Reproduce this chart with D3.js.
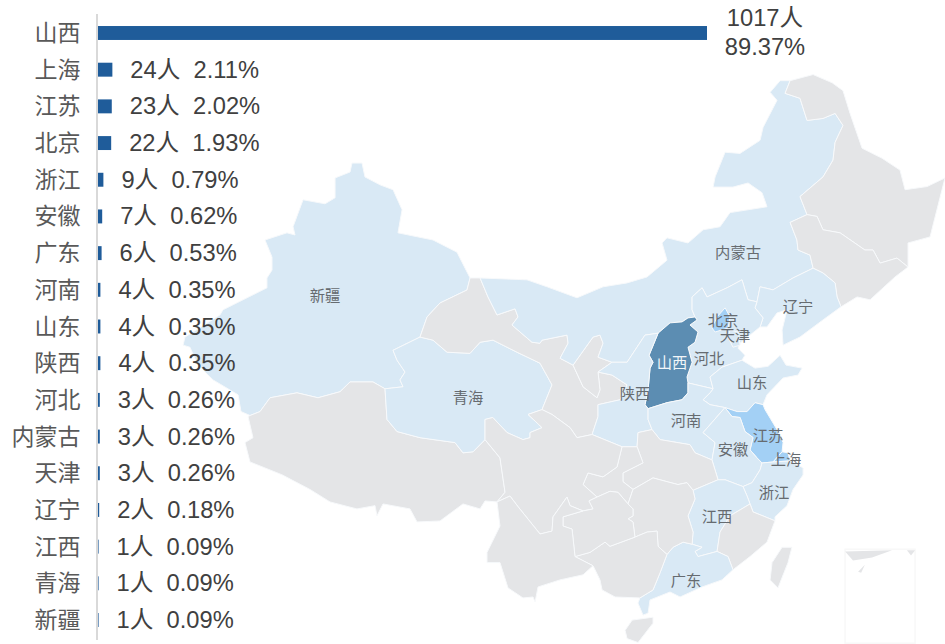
<!DOCTYPE html>
<html><head><meta charset="utf-8">
<script src="https://cdn.jsdelivr.net/npm/d3@7/dist/d3.min.js"></script>
<style>html,body{margin:0;padding:0;background:#fff}svg{display:block}</style>
</head><body><svg id="c" width="945" height="644"></svg>
<script>
// ---------- chart values ----------
const categories=["山西","上海","江苏","北京","浙江","安徽","广东","河南","山东","陕西","河北","内蒙古","天津","辽宁","江西","青海","新疆"];
const counts=[1017,24,23,22,9,7,6,4,4,4,3,3,3,2,1,1,1];
const shares=["89.37%","2.11%","2.02%","1.93%","0.79%","0.62%","0.53%","0.35%","0.35%","0.35%","0.26%","0.26%","0.26%","0.18%","0.09%","0.09%","0.09%"];

// ---------- geography: junctions [lon,lat] ----------
const J1=[96.56,42.68],J1b=[97.37,42.68],J2=[78.76,34.13],J3=[89.68,35.87],J4=[92.51,39.13],J5=[104.89,37.38],J6=[108.04,37.56],J7=[111.77,39.37],J8=[114.76,40.36],J9=[119.77,41.27],J10=[124.31,43.25],J11=[123.82,46.27],J12=[122.45,53.14],J13=[131.99,43.31],J14=[126.57,40.97],J15=[120.02,39.75],J16=[118.56,37.69],J17=[116.22,35.87],J18=[114.19,36.25],J19=[110.96,34.58],J20=[111.28,33.2],J21=[116.13,31.16],T=[117.18,34.65],J24=[120.26,34.84],J25=[121.8,31.71],J26=[121.07,31.02],J27=[122.44,31.09],J28=[120.18,30.95],J29=[121.23,26.93],J30=[118.64,29.33],J31=[116.62,29.8],J32=[114.6,29.07],J33=[119.21,28.12],J34=[116.54,24.74],J35=[117.83,23.41],J36=[114.52,25.26],J37=[109.74,29.13],J38=[112.49,24.52],J39=[109.9,25.77],J40=[109.34,28.12],J41=[110.3,21.34],J42=[106.51,23.7],J43=[105.05,24.37],J44=[105.7,27.63],J45=[98.74,28.26],J46=[97.77,32.53],J47=[102.38,34.52],J48=[106.43,32.87],J49=[106.91,36.94],J50=[108.85,32.05],J51=[110.07,32.05],J52=[106.83,28.6];

// ---------- geography: border arcs ----------
const arcs={
XJ_N:[J1,[95.5,44.17],[93.56,44.86],[90.73,45.26],[91.06,46.54],[90.33,47.62],[89.28,47.88],[88.06,48.3],[87.82,49.03],[87.01,49.03],[86.85,48.56],[85.64,48.25],[85.64,47.19],[84.83,46.86],[83.05,47.08],[82.24,45.6],[82.4,45.14],[81.75,45.26],[79.97,44.86],[80.54,43.88],[80.54,43.14],[80.13,42.68],[80.13,42.1],[76.57,40.79],[76.33,40.48],[73.5,39.13],[73.34,38.63],[73.9,38.5],[74.55,37.38],[75.77,36.44],[77.79,35.48],[78.03,34.39],J2],
XJ_XZ:[J2,[79.57,34.39],[80.38,35.29],[82.56,35.61],[84.26,35.29],[86.04,35.68],[86.85,36.31],[88.71,36.31],J3],
XJ_QH:[J3,[91.14,36.0],[90.89,36.44],[91.3,36.94],[90.65,37.69],[90.33,38.31],J4],
XJ_GS:[J4,[93.08,40.36],[94.13,41.2],[96.31,41.97],J1],
GS_N0:[J1,J1b],
GS_IM:[J1b,[98.01,41.56],[98.74,40.48],[100.2,40.85],[100.44,40.36],[99.95,39.87],[101.57,38.81],[102.22,38.75],[102.38,38.94],[104.4,39.25],[104.49,38.75],[103.84,37.81],J5],
NX_IM:[J5,[106.51,39.13],[107.07,39.25],[107.32,38.75],[106.91,37.88],J6],
SX_IM:[J6,[109.26,37.56],[110.71,39.25],J7],
SHX_IM:[J7,[112.74,40.0],[113.71,40.06],[114.19,40.3],J8],
HB_IM:[J8,[114.52,40.79],[114.52,41.56],[115.33,42.1],[115.73,41.56],[117.35,42.1],[118.56,42.57],[118.8,41.98],[119.05,41.39],J9],
LN_IM:[J9,[120.02,42.16],[121.07,41.98],[122.69,42.68],J10],
JL_IM:[J10,[124.06,44.0],[123.09,44.29],[123.0,44.86],[122.45,45.84],J11],
HL_IM:[J11,[123.25,47.25],[125.11,48.3],[125.92,49.18],[126.09,50.1],[126.73,50.95],[126.09,51.55],[125.11,51.3],[123.82,51.2],[123.25,52.29],[122.04,52.53],J12],
IM_OUT:[J12,[121.64,53.14],[120.83,52.58],[121.39,52.19],[120.26,50.85],[120.02,50.2],[118.4,49.53],[117.19,49.59],[116.38,48.3],[116.22,47.76],[117.83,47.76],[119.05,47.98],[120.18,47.46],[120.58,46.7],[117.59,46.38],[116.78,45.6],[115.41,45.43],[114.19,44.69],[112.49,44.98],[112.09,44.69],[112.49,43.71],[110.88,42.74],[109.26,42.39],[107.32,42.16],[105.21,41.51],[102.79,42.16],[101.17,42.57],J1b],
HL_OUT:[J12,[124.31,53.43],[125.85,53.04],[126.73,52.66],[127.3,51.55],[128.27,49.8],[129.89,49.28],[131.34,48.66],[131.75,47.62],[133.53,47.79],[134.98,48.25],[133.77,45.03],[131.99,44.69],J13],
HL_JL:[J11,[124.63,46.17],[125.11,45.43],[126.49,45.26],[128.5,44.29],[129.16,44.29],[129.73,43.54],[131.1,43.83],J13],
JL_OUT:[J13,[130.94,42.74],[128.92,41.39],[127.87,41.56],J14],
JL_LN:[J10,[125.11,42.97],[126.09,42.39],[126.25,41.56],J14],
LN_COAST:[J14,[125.11,40.18],[123.25,39.13],[121.88,38.63],[121.8,39.56],[122.2,40.79],[121.39,40.6],[120.58,39.75],J15],
HB_LN:[J9,[119.61,40.91],[120.26,40.3],J15],
HB_COAST:[J15,[118.4,38.75],[118.24,38.44],[118.8,38.0],J16],
HB_SD:[J16,[116.94,37.25],[115.97,36.63],J17],
HB_HN:[J17,J18],
SHX_E:[J8,[114.92,40.18],[114.35,39.87],[115.0,39.44],[114.76,38.81],[114.19,38.5],[114.52,37.56],[114.11,36.63],J18],
SHX_HN:[J18,[114.19,35.61],[113.71,35.16],[112.49,34.97],J19],
SHX_SX:[J19,[110.71,34.84],[110.96,35.8],[111.12,37.19],[111.36,37.56],[111.04,38.0],J7],
SX_HN:[J19,[110.96,33.87],J20],
HN_HB:[J20,[111.93,32.53],[114.35,32.19],[114.76,31.64],J21],
HN_AH:[J21,[116.38,32.33],[115.41,33.0],[116.13,33.67],T],
HN_SD:[T,[115.97,34.84],[115.41,35.16],[115.97,35.61],J17],
SD_COAST:[J16,[119.61,37.19],[120.67,37.31],[121.64,38.0],[122.12,37.38],[123.42,37.19],[123.09,36.75],[121.88,36.56],[120.58,35.48],J24],
SD_JS:[J24,[119.61,34.97],[118.97,34.39],[118.16,34.39],T],
JS_COAST:[J24,[120.42,34.52],[121.39,33.2],[121.88,32.33],J25],
JS_SH:[J25,J26],
SH_COAST:[J25,[122.28,31.64],J27],
SH_ZJ:[J26,J27],
JS_ZJ:[J26,J28],
JS_AH:[J28,[119.77,31.3],[119.21,31.84],[119.45,32.67],[118.8,33.07],[118.4,34.0],[117.75,34.06],T],
ZJ_COAST:[J27,[123.5,30.62],[123.5,30.13],[122.69,29.13],[122.2,28.0],[121.23,27.21],J29],
AH_ZJ:[J28,[120.02,30.48],[119.37,29.6],J30],
AH_HB:[J21,J31],
AH_JX:[J31,[117.19,29.8],J30],
JX_HB:[J31,J32],
JX_ZJ:[J30,[118.97,28.67],J33],
ZJ_FJ:[J33,[119.45,27.56],J29],
JX_FJ:[J33,[117.59,27.28],[116.78,26.13],J34],
FJ_GD:[J34,[117.43,24.37],J35],
FJ_COAST:[J29,[120.58,25.41],[119.21,24.37],J35],
JX_GD:[J34,[115.0,24.37],[114.76,24.74],[115.33,25.04],J36],
JX_HUN:[J36,[114.6,26.13],[114.19,27.28],[114.76,28.47],J32],
HUN_HB:[J32,[114.11,29.6],[113.38,29.47],[112.49,29.67],[111.36,29.93],J37],
HUN_GD:[J36,[113.79,25.41],[112.98,25.04],J38],
HUN_GX:[J38,[111.77,25.11],[111.69,26.2],[110.88,26.13],J39],
HUN_GZ:[J39,[109.74,26.85],[109.34,27.07],[109.74,27.28],[109.74,27.77],J40],
HUN_CQ:[J37,J40],
GX_GD:[J38,[111.93,23.19],[111.36,21.93],J41],
GD_COAST:[J35,[116.94,22.67],[115.33,22.15],[113.55,21.41],[112.74,21.78],[111.12,21.19],[110.96,20.21],[110.55,20.06],[110.14,20.96],J41],
GX_COAST:[J41,[108.29,21.41],[107.24,21.93],[107.07,22.67],J42],
YN_GX:[J42,J43],
GX_GZ:[J43,[106.26,24.67],[107.48,25.41],[107.88,25.11],J39],
YN_GZ:[J43,[104.81,26.34],[104.08,26.56],[104.08,27.21],J44],
YN_SC:[J44,[104.65,28.0],[104.4,28.6],[103.27,27.21],[103.19,26.2],[102.22,25.99],[100.44,27.93],[99.79,28.67],J45],
YN_OUT:[J45,[98.98,26.56],[97.93,24.67],[97.93,23.93],[98.98,23.93],[99.63,22.08],[100.84,21.34],[101.65,21.41],[101.82,21.04],[102.06,22.15],[103.84,22.67],[105.7,23.04],J42],
SC_XZ:[J45,[99.39,28.93],[98.98,31.3],J46],
XZ_S:[J45,[97.77,28.33],[97.37,27.77],[95.99,28.12],[94.13,26.92],[92.27,26.85],[91.7,27.77],[89.52,28.12],[89.03,27.28],[88.87,28.0],[87.41,27.77],[85.23,28.26],[83.61,29.13],[81.35,30.14],[78.76,31.02],[78.35,32.33],[79.0,32.66],[78.6,34.06],J2],
QH_XZ:[J46,[96.8,31.71],[95.99,31.64],[95.34,32.33],[92.51,32.66],[90.65,33.07],[89.84,33.87],J3],
QH_SC:[J46,[97.77,33.87],[98.4,34.0],[99.55,33.0],[100.84,32.53],[101.41,32.66],[101.41,33.0],[102.38,33.33],[101.25,34.2],J47],
QH_GS:[J47,[103.19,36.12],[102.22,37.5],[100.36,38.19],[98.42,38.94],[97.37,38.81],[96.56,38.12],[94.7,38.19],[93.56,38.94],J4],
GS_SC:[J47,[103.19,34.2],[104.65,33.33],[105.21,32.66],J48],
GS_NX:[J5,[105.7,36.0],[106.83,35.29],[107.07,35.8],J49],
NX_SX:[J49,J6],
GS_SX:[J49,[108.04,36.75],[109.26,36.12],[108.69,35.16],[106.91,34.84],[106.91,34.06],J48],
SX_SC:[J48,J50],
SX_CQ:[J50,J51],
SX_HB:[J51,[110.15,33.0],J20],
CQ_SC:[J50,[108.45,30.68],[107.32,30.0],[106.1,30.27],[105.7,29.47],J52],
CQ_GZ:[J52,[107.88,29.0],[108.53,28.93],J40],
SC_GZ:[J52,[106.18,28.33],[106.51,27.77],J44],
CQ_HB:[J51,[110.55,30.96],[108.93,30.27],[108.93,29.67],J37]
};

// ---------- provinces as chains of arcs ("-" = reversed) ----------
const provinces={
"新疆":["XJ_N","XJ_XZ","XJ_QH","XJ_GS"],
"西藏":["XJ_XZ","-QH_XZ","-SC_XZ","XZ_S"],
"青海":["XJ_QH","-QH_GS","-QH_SC","QH_XZ"],
"甘肃":["XJ_GS","GS_N0","GS_IM","GS_NX","GS_SX","-GS_SC","QH_GS"],
"宁夏":["NX_IM","-NX_SX","-GS_NX"],
"内蒙古":["IM_OUT","GS_IM","NX_IM","SX_IM","SHX_IM","HB_IM","LN_IM","JL_IM","HL_IM"],
"黑龙江":["HL_OUT","-HL_JL","HL_IM"],
"吉林":["HL_JL","JL_OUT","-JL_LN","JL_IM"],
"辽宁":["LN_IM","JL_LN","LN_COAST","-HB_LN"],
"河北":["HB_IM","HB_LN","HB_COAST","HB_SD","HB_HN","-SHX_E"],
"山西":["SHX_IM","SHX_E","SHX_HN","SHX_SX"],
"陕西":["SX_IM","-SHX_SX","SX_HN","-SX_HB","-SX_CQ","-SX_SC","-GS_SX","NX_SX"],
"山东":["-HB_SD","SD_COAST","SD_JS","HN_SD"],
"河南":["-HB_HN","-HN_SD","-HN_AH","-HN_HB","-SX_HN","-SHX_HN"],
"江苏":["-SD_JS","JS_COAST","JS_SH","JS_ZJ","JS_AH"],
"上海":["SH_COAST","-SH_ZJ","-JS_SH"],
"安徽":["HN_AH","-JS_AH","AH_ZJ","-AH_JX","-AH_HB"],
"浙江":["-JS_ZJ","SH_ZJ","ZJ_COAST","-ZJ_FJ","-JX_ZJ","-AH_ZJ"],
"湖北":["SX_HB","HN_HB","AH_HB","JX_HB","HUN_HB","-CQ_HB"],
"重庆":["SX_CQ","CQ_HB","HUN_CQ","-CQ_GZ","-CQ_SC"],
"四川":["QH_SC","GS_SC","SX_SC","CQ_SC","SC_GZ","YN_SC","SC_XZ"],
"江西":["AH_JX","JX_ZJ","JX_FJ","JX_GD","JX_HUN","-JX_HB"],
"福建":["JX_FJ","FJ_GD","-FJ_COAST","-ZJ_FJ"],
"广东":["-JX_GD","FJ_GD","GD_COAST","-GX_GD","-HUN_GD"],
"湖南":["JX_HUN","HUN_HB","HUN_CQ","-HUN_GZ","-HUN_GX","-HUN_GD"],
"广西":["HUN_GX","-GX_GZ","-YN_GX","-GX_COAST","-GX_GD"],
"贵州":["YN_GZ","-SC_GZ","CQ_GZ","-HUN_GZ","-GX_GZ"],
"云南":["YN_GZ","YN_SC","YN_OUT","YN_GX"]
};
// rings that are not on the shared border network
const extraRings={
"北京":[[117.19,40.91],[117.59,40.36],[117.43,39.69],[116.38,39.44],[116.13,39.69],[116.54,40.36]],
"天津":[[117.59,39.56],[118.24,39.44],[118.4,38.63],[117.83,38.5],[117.43,39.13]],
"海南":[[109.1,18.92],[109.67,19.69],[111.36,19.91],[111.36,19.46],[110.15,18.0],[109.26,18.3]],
"台湾":[[122.6,25.04],[121.8,25.04],[120.99,23.93],[120.83,22.67],[121.47,22.08],[122.28,23.93]]
};
const insetFrame=[[126.9,24.9],[132.56,24.9],[132.56,17.95],[126.9,17.95]];
const insetLand=[[[126.9,24.74],[130.7,24.82],[129.08,24.3],[127.54,24.08]],[[131.9,24.82],[132.56,24.82],[132.23,24.45]],[[127.95,23.26],[128.5,23.78],[128.2,23.2]]];

// map label anchors [name,lon,lat]
const mapLabels=[["新疆",84.83,41.62],["青海",96.4,35.29],["内蒙古",118.24,44.17],["辽宁",123.09,41.0],["北京",117.02,40.12],["天津",117.99,39.25],["河北",115.89,37.81],["山西",112.9,37.56],["陕西",109.9,35.55],["山东",119.37,36.25],["河南",114.03,33.8],["江苏",120.67,32.8],["安徽",117.83,31.84],["上海",122.12,31.16],["浙江",121.15,28.93],["江西",116.54,27.21],["广东",114.03,22.6]];

// ---------- projection ----------
const rad=Math.PI/180;
const mx=d3.scaleLinear().domain([73.5*rad,134.98*rad]).range([185,945]);
const my=d3.scaleLinear().domain([1.1095,0.3197]).range([73,642.4]);
const project=(lon,lat)=>{const p=d3.geoMercatorRaw(lon*rad,lat*rad);return [mx(p[0]),my(p[1])];};
const path=d3.geoPath(d3.geoTransform({point(lon,lat){const p=project(lon,lat);this.stream.point(p[0],p[1]);}}));
const ringOf=chain=>{
  const out=[];
  chain.forEach(n=>{
    const rev=n[0]==="-",a=arcs[rev?n.slice(1):n],pts=rev?a.slice().reverse():a;
    pts.forEach((p,i)=>{if(i>0||!out.length)out.push(p);});
  });
  return out;
};
const polygon=r=>({type:"Polygon",coordinates:[r.concat([r[0]])]});

// ---------- colours ----------
const lookup=new Map(categories.map((c,i)=>[c,counts[i]]));
const fill=d3.scaleThreshold().domain([1,10,100]).range(["#e4e5e7","#d9e9f5","#a3d0f5","#5b8db2"]);

const svg=d3.select("#c");
svg.append("defs").append("filter").attr("id","soft").attr("x","-5%").attr("y","-5%").attr("width","110%").attr("height","110%")
  .append("feGaussianBlur").attr("stdDeviation",0.6);
const shapes=svg.append("g").attr("filter","url(#soft)");
const mapG=svg.append("g");

// inset
shapes.append("path").datum(polygon(insetFrame)).attr("d",path).attr("fill","none").attr("stroke","#f8f8f8").attr("stroke-width",1.5);
shapes.selectAll("path.inset").data(insetLand).join("path").attr("class","inset").attr("d",r=>path(polygon(r))).attr("fill","#e4e5e7");

// provinces
const features=Object.entries(provinces).map(([name,chain])=>({name,ring:ringOf(chain)}))
  .concat(Object.entries(extraRings).map(([name,ring])=>({name,ring})));
shapes.selectAll("path.prov").data(features).join("path").attr("class","prov")
  .attr("d",f=>path(polygon(f.ring)))
  .attr("fill",f=>fill(lookup.get(f.name)||0))
  .attr("stroke","#f7f9fb").attr("stroke-width",1).attr("stroke-linejoin","round");

// map labels
mapG.selectAll("text").data(mapLabels).join("text")
  .attr("x",d=>project(d[1],d[2])[0]).attr("y",d=>project(d[1],d[2])[1]-1.5)
  .attr("text-anchor","middle").attr("dominant-baseline","central")
  .attr("font-family",'"Noto Sans CJK SC"').attr("font-size",15.3)
  .attr("fill",d=>d[0]==="山西"?"#f2f6f9":"#666b70").text(d=>d[0]);

// ---------- bars ----------
const x=d3.scaleLinear().domain([0,1017]).range([98,707]);
const y=d3.scaleBand().domain(categories).range([14.65,638.35]).paddingInner(0.62).paddingOuter(0.31);

svg.append("line").attr("x1",97).attr("x2",97).attr("y1",14).attr("y2",640).attr("stroke","#d9d9d9").attr("stroke-width",2);
svg.selectAll("rect.bar").data(categories).join("rect").attr("class","bar")
  .attr("x",x(0)).attr("y",c=>y(c)).attr("height",y.bandwidth())
  .attr("width",(c,i)=>x(counts[i])-x(0)).attr("fill","#1f5c9a");

const mid=c=>y(c)+y.bandwidth()/2;
svg.selectAll("text.cat").data(categories).join("text").attr("class","cat")
  .attr("x",80.5).attr("y",c=>mid(c)-2).attr("text-anchor","end").attr("dominant-baseline","central")
  .attr("font-family",'"Noto Sans CJK SC"').attr("font-size",23).attr("fill","#595959").text(c=>c);

const fontVal='"Liberation Sans","Noto Sans CJK SC"';
svg.selectAll("text.val").data(categories.slice(1)).join("text").attr("class","val")
  .attr("x",(c,i)=>x(counts[i+1])+18).attr("y",mid).attr("dominant-baseline","central")
  .attr("font-family",fontVal).attr("font-size",23.7).attr("fill","#404040")
  .style("white-space","pre").text((c,i)=>counts[i+1]+"人  "+shares[i+1]);
[counts[0]+"人",shares[0]].forEach((t,i)=>{
  svg.append("text").attr("x",x(counts[0])+58).attr("y",mid(categories[0])+(i?14:-15))
    .attr("text-anchor","middle").attr("dominant-baseline","central")
    .attr("font-family",fontVal).attr("font-size",23.7).attr("fill","#404040").text(t);
});
</script></body></html>
